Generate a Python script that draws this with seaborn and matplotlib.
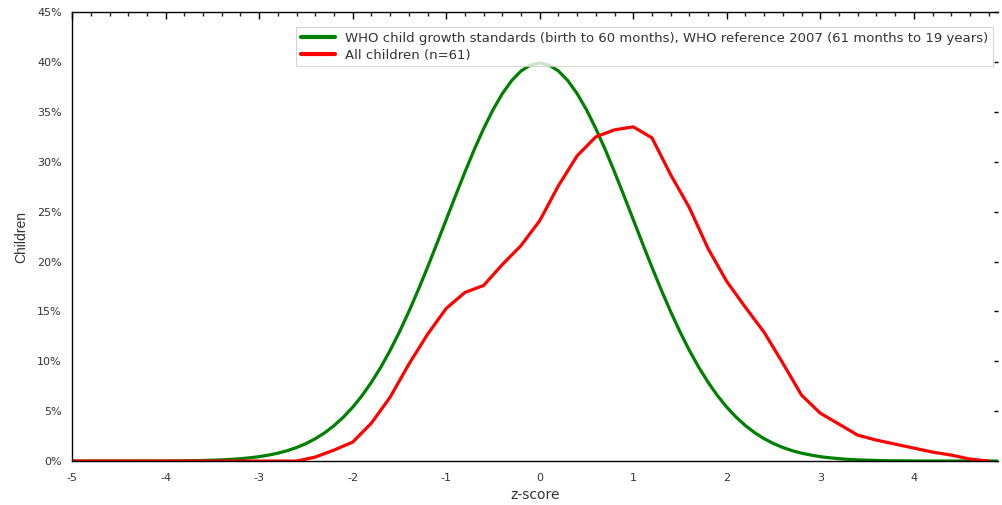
import seaborn as sns
import matplotlib.pyplot as plt
import matplotlib.ticker as mticker
import pandas as pd
import numpy as np

# WHO reference curve: z-score (step 0.1 from -4 to 4, plus the flat ends) and % of children
z_who = [-5.0] + [round(-4.0 + 0.1 * i, 1) for i in range(81)] + [4.9]
who_ref = [0.0,
           0.01, 0.02, 0.03, 0.04, 0.06, 0.09, 0.12, 0.17, 0.24, 0.33,     # -4.0 .. -3.1
           0.44, 0.60, 0.79, 1.04, 1.36, 1.75, 2.24, 2.83, 3.55, 4.40,     # -3.0 .. -2.1
           5.4, 6.56, 7.9, 9.4, 11.09, 12.95, 14.97, 17.14, 19.42, 21.79,  # -2.0 .. -1.1
           24.2, 26.61, 28.97, 31.23, 33.32, 35.21, 36.83, 38.14, 39.1, 39.69,  # -1.0 .. -0.1
           39.89, 39.69, 39.1, 38.14, 36.83, 35.21, 33.32, 31.23, 28.97, 26.61,  # 0.0 .. 0.9
           24.2, 21.79, 19.42, 17.14, 14.97, 12.95, 11.09, 9.4, 7.9, 6.56,  # 1.0 .. 1.9
           5.4, 4.40, 3.55, 2.83, 2.24, 1.75, 1.36, 1.04, 0.79, 0.60,      # 2.0 .. 2.9
           0.44, 0.33, 0.24, 0.17, 0.12, 0.09, 0.06, 0.04, 0.03, 0.02,     # 3.0 .. 3.9
           0.01,                                                          # 4.0
           0.0]

# all children (n=61): z-score step 0.2, % of children
z_all = [round(-5 + 0.2 * i, 1) for i in range(50)]
all_children = [0.0, 0.0, 0.0, 0.0, 0.0, 0.0, 0.0, 0.0, 0.0, 0.0,
                0.0, 0.0, 0.0, 0.4, 1.1, 1.9, 3.8, 6.4, 9.7, 12.7,
                15.3, 16.9, 17.6, 19.7, 21.6, 24.1, 27.6, 30.6, 32.5, 33.2,
                33.5, 32.4, 28.7, 25.4, 21.3, 18.0, 15.4, 12.9, 9.8, 6.6,
                4.8, 3.7, 2.6, 2.1, 1.7, 1.3, 0.9, 0.6, 0.2, 0.0]

lbl_who = "WHO child growth standards (birth to 60 months), WHO reference 2007 (61 months to 19 years)"
lbl_all = "All children (n=61)"

df = pd.DataFrame({"z": z_who + z_all,
                   "pct": who_ref + all_children,
                   "serie": [lbl_who] * len(z_who) + [lbl_all] * len(z_all)})

sns.set_style("white")
plt.rcParams["font.family"] = ["DejaVu Sans"]
plt.rcParams["axes.unicode_minus"] = False

fig = plt.figure(figsize=(10.02, 5.05), dpi=100)
ax = fig.add_axes([0.072, 0.087, 0.924, 0.889])

sns.lineplot(data=df, x="z", y="pct", hue="serie",
             palette={lbl_who: "#008000", lbl_all: "#ff0000"},
             linewidth=2.3, sort=False, ax=ax)

ax.set_xlim(-5, 4.9)
ax.set_ylim(0, 45)
ax.xaxis.set_major_locator(mticker.MultipleLocator(1))
ax.xaxis.set_minor_locator(mticker.MultipleLocator(0.2))
ax.yaxis.set_major_locator(mticker.MultipleLocator(5))
ax.yaxis.set_minor_locator(mticker.MultipleLocator(1))
ax.yaxis.set_major_formatter(mticker.FuncFormatter(lambda v, p: f"{v:.0f}%"))

for s in ["left", "bottom", "top"]:
    ax.spines[s].set_color("black")
    ax.spines[s].set_linewidth(1.0)
ax.spines["right"].set_visible(False)

ax.tick_params(axis="x", which="major", direction="out", length=5, width=1,
               top=True, labelsize=8, labelcolor="#333333", colors="black")
ax.tick_params(axis="x", which="minor", direction="out", length=3, width=1,
               top=True)
ax.tick_params(axis="y", which="major", direction="inout", length=8, width=1,
               labelsize=8, labelcolor="#333333", colors="black",
               right=True)
ax.tick_params(axis="y", which="minor", direction="in", length=4, width=1)
# top spine ticks point down into the plot
for t in ax.xaxis.get_major_ticks() + ax.xaxis.get_minor_ticks():
    t.tick2line.set_marker(3)
# faint ticks on the right edge
for t in ax.yaxis.get_major_ticks():
    t.tick2line.set_marker(0)
    t.tick2line.set_markersize(3)
    t.tick2line.set_color("#bbbbbb")

ax.set_xlabel("z-score", fontsize=10, color="#333333", labelpad=4)
ax.set_ylabel("Children", fontsize=10, color="#333333",
              family=["Liberation Sans Narrow", "Liberation Sans"], labelpad=6)

leg = ax.legend(loc="upper right", bbox_to_anchor=(0.9946, 0.9666), borderaxespad=0,
                fontsize=9.5, frameon=True, fancybox=False, edgecolor="#cccccc",
                handlelength=2.6, borderpad=0.35, labelspacing=0.3,
                handletextpad=0.75)
leg.get_frame().set_linewidth(0.8)
for line in leg.get_lines():
    line.set_linewidth(3)
for txt in leg.get_texts():
    txt.set_color("#333333")

fig.savefig("out.png", dpi=100)
